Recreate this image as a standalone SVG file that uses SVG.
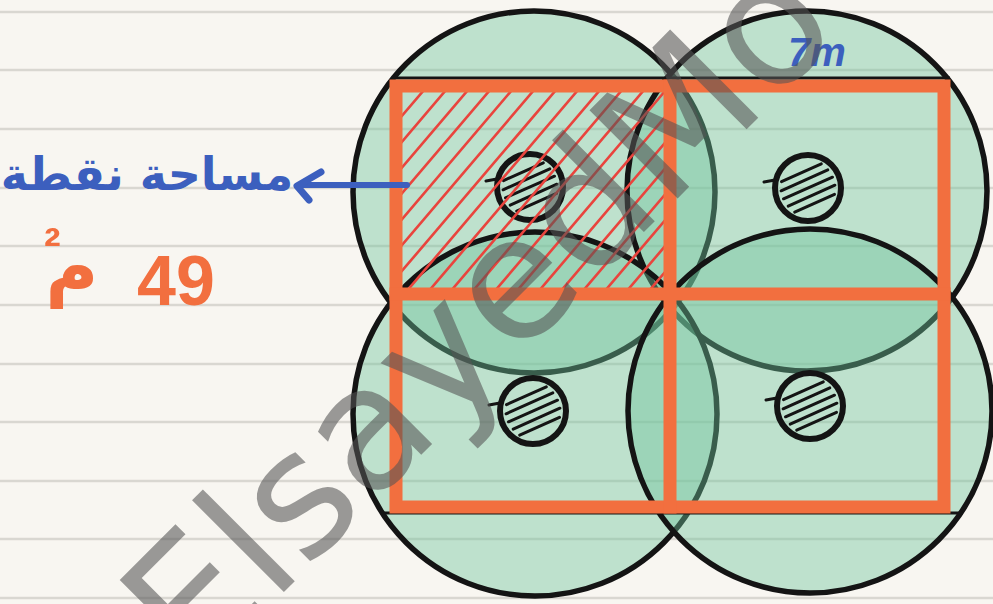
<svg xmlns="http://www.w3.org/2000/svg" width="993" height="604" viewBox="0 0 993 604">
<style>
.rule{stroke:#d9d7d1;stroke-width:2.5}
.big{fill:#6ec39b;fill-opacity:0.42;stroke:#141414;stroke-width:5.5}
.small{fill:none;stroke:#141414;stroke-width:6}
.sh{fill:none;stroke:#141414;stroke-width:3;stroke-linecap:round}
.grid{fill:none;stroke:#f26f3f;stroke-width:13;stroke-linecap:square}
.blk{stroke:#141414;stroke-width:3}
.hatch{fill:none;stroke:#e9443d;stroke-width:2.6}
.blue{fill:#3c5fbe;font-weight:bold}
.or{fill:#f26f3f;font-weight:bold}
.wm{fill:#555;fill-opacity:0.58;font-family:"DejaVu Sans",sans-serif;font-size:171px}
</style>
<defs>
<g id="dot">
<circle cx="0" cy="0" r="33" class="small"/>
<path class="sh" d="M-26.5,-6.4 L13.3,-24.1 M-26.9,2.8 L19.8,-18.2 M-24.5,10.8 L24.5,-10.8 M-19.8,18.2 L26.9,-2.8 M-13.3,24.1 L26.5,6.4 M-44,-6 L-33,-8"/>
</g>
<clipPath id="cell"><rect x="402" y="92" width="262" height="197"/></clipPath>
</defs>
<rect width="993" height="604" fill="#f8f6f1"/>
<g id="paper-lines">
<line class="rule" x1="0" y1="12" x2="993" y2="12"/>
<line class="rule" x1="0" y1="70" x2="993" y2="70"/>
<line class="rule" x1="0" y1="129" x2="993" y2="129"/>
<line class="rule" x1="0" y1="188" x2="993" y2="188"/>
<line class="rule" x1="0" y1="246" x2="993" y2="246"/>
<line class="rule" x1="0" y1="305" x2="993" y2="305"/>
<line class="rule" x1="0" y1="364" x2="993" y2="364"/>
<line class="rule" x1="0" y1="422" x2="993" y2="422"/>
<line class="rule" x1="0" y1="481" x2="993" y2="481"/>
<line class="rule" x1="0" y1="539" x2="993" y2="539"/>
<line class="rule" x1="0" y1="598" x2="993" y2="598"/>
</g>
<g id="coverage-circles">
<circle id="circle-tl" class="big" cx="534" cy="192" r="181"/>
<circle id="circle-tr" class="big" cx="807" cy="191" r="180"/>
<circle id="circle-bl" class="big" cx="535" cy="414" r="182"/>
<circle id="circle-br" class="big" cx="810" cy="411" r="182"/>
</g>
<g id="sprinklers">
<use href="#dot" x="530" y="187"/>
<use href="#dot" x="808" y="188"/>
<use href="#dot" x="533" y="411"/>
<use href="#dot" x="810" y="406"/>
</g>
<g id="hatched-cell" clip-path="url(#cell)">
<path class="hatch" d="M230,292L402,90M252,292L424,90M274,292L446,90M296,292L468,90M318,292L490,90M340,292L512,90M362,292L534,90M384,292L556,90M406,292L578,90M428,292L600,90M450,292L622,90M472,292L644,90M494,292L666,90M516,292L688,90M538,292L710,90M560,292L732,90M582,292L754,90M604,292L776,90M626,292L798,90M648,292L820,90M670,292L842,90"/>
</g>
<g id="grid">
<path class="blk" d="M392,78 L950,78 M384,513 L963,513 M948,78 L948,92"/>
<rect class="grid" x="396" y="86" width="548" height="421"/>
<path class="grid" d="M670,86 L670,507 M396,294 L944,294"/>
</g>
<g id="label-area">
<path d="M407,185 L300,185" fill="none" stroke="#3c5fbe" stroke-width="6" stroke-linecap="round"/>
<path d="M321,172 L297,186 L309,200" fill="none" stroke="#3c5fbe" stroke-width="7" stroke-linecap="round" stroke-linejoin="round"/>
<text class="blue" x="147" y="190" text-anchor="middle" font-family="'DejaVu Sans',sans-serif" font-size="46">مساحة نقطة</text>
</g>
<g id="label-49">
<text class="or" x="137" y="305" font-family="'Liberation Sans',sans-serif" font-size="70">49</text>
<text class="or" x="72" y="292" text-anchor="middle" font-family="'DejaVu Sans',sans-serif" font-size="72">م</text>
<text class="or" x="44" y="263" font-family="'Liberation Sans',sans-serif" font-size="50">²</text>
</g>
<g id="label-7m">
<text class="blue" x="788" y="66" font-family="'Liberation Sans',sans-serif" font-size="40" font-style="italic">7m</text>
</g>
<g id="watermark">
<text class="wm" x="196" y="680" transform="rotate(-45 196 680)">ElsayedMo</text>
</g>
</svg>
